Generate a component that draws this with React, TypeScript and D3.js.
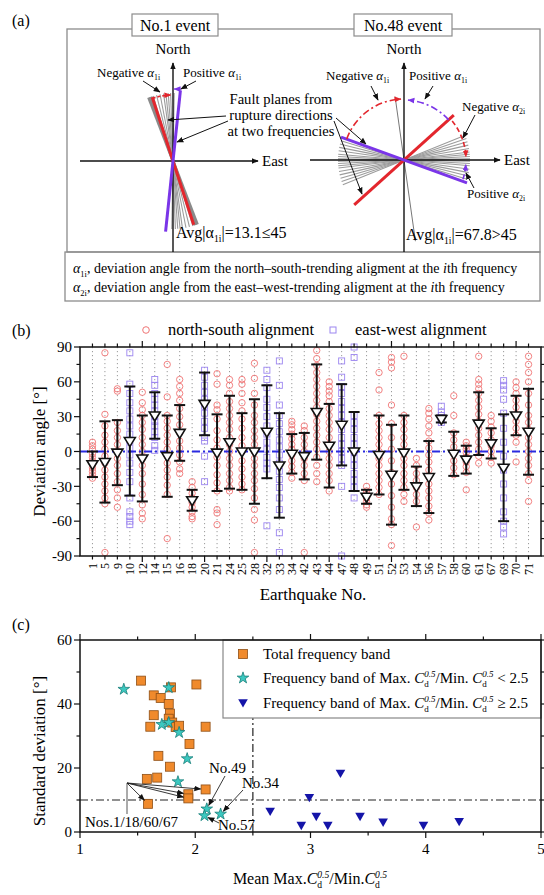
import { useEffect, useRef } from 'react'
import * as d3 from 'd3'

const WIDTH = 544
const HEIGHT = 895
const SERIF = "'Liberation Serif', 'Times New Roman', Times, serif"

const RED = '#e3262d'
const PURPLE = '#7a35e8'
const PLANE_GRAY = '#9c9c9c'

// (a) fault plane strikes, degrees clockwise from north
const no1Planes = [-21, -19, -17, -14, -11, -8, -6, -4, -2, 1]
const no48Planes = [68, 71, 74, 77, 80, 83, 85, 87, 89, 91, 93, 95, 98, 101, 104, 107, 110]
const redPlanes = [-18, 48]
const purplePlanes = [6, 110]
const no48AvgLine = -8

// (b) deviation angles per earthquake
const eqNo = [1, 5, 9, 10, 12, 14, 15, 16, 18, 20, 21, 24, 25, 28, 32, 33, 34, 42, 43, 44, 47, 48, 49, 51, 52, 53, 54, 56, 57, 58, 60, 61, 67, 69, 70, 71]
const alignment = ['ns', 'ns', 'ns', 'ew', 'ns', 'ew', 'ns', 'ns', 'ns', 'ew', 'ns', 'ns', 'ns', 'ns', 'ew', 'ew', 'ns', 'ns', 'ns', 'ns', 'ew', 'ew', 'ns', 'ns', 'ns', 'ns', 'ns', 'ns', 'ew', 'ns', 'ns', 'ns', 'ns', 'ew', 'ns', 'ns']
const devMean = [-11, -9, -1, 9, -6, 31, -4, 16, -42, 41, -1, 8, 0, 0, 17, -12, -2, -4, 34, 5, 23, 0, -39, -3, -20, -1, -30, -22, 28, -2, -7, 24, 7, -14, 31, 17]
const devStd = [11, 35, 28, 47, 37, 20, 35, 24, 9, 27, 33, 40, 33, 45, 40, 45, 17, 20, 41, 36, 35, 34, 6, 34, 43, 32, 17, 31, 3, 19, 12, 27, 13, 46, 17, 37]
const devAngles = [
  [8, 5, 2, -2, -5, -8, -11, -14, -17, -20, -23],
  [85, 32, 22, 14, 8, 2, -4, -10, -16, -22, -28, -34, -40, -45, -87],
  [54, 52, 25, 18, 12, 6, 0, -6, -12, -19, -26, -33, -40, -48],
  [85, 58, 50, 42, 35, 28, 22, 15, 9, 3, -3, -10, -18, -26, -40, -52, -56, -60, -63],
  [51, 42, 36, 31, 25, 19, 12, 6, 0, -6, -12, -19, -28, -37, -46, -53, -58],
  [62, 57, 50, 45, 40, 35, 30, 26, 22, 17, 12, 5, 1],
  [75, 47, 31, 26, 20, 14, 8, 2, -4, -10, -16, -22, -29, -37, -75],
  [62, 56, 50, 44, 37, 30, 23, 16, 9, 3, -3, -9, -15, -19],
  [-26, -31, -36, -40, -44, -48, -52, -56, -58],
  [70, 64, 57, 51, 45, 39, 33, 26, 20, 12, 9, -4, -26],
  [67, 58, 40, 36, 28, 18, 10, 3, -5, -12, -20, -27, -34, -50, -53, -63],
  [62, 57, 50, 43, 37, 31, 25, 19, 12, 6, 0, -6, -12, -19, -25, -31, -34],
  [62, 58, 50, 42, 35, 28, 20, 12, 5, 0, -8, -15, -22, -28, -33],
  [76, 63, 50, 40, 31, 25, 18, 12, 6, 0, -6, -12, -19, -25, -32, -40, -50, -59, -87],
  [70, 62, 55, 45, 38, 30, 22, 15, 8, 2, -5, -10, -15, -64],
  [78, 57, 40, 31, 24, 17, 10, 4, -3, -10, -17, -24, -31, -40, -50, -70, -87],
  [26, 23, 19, 15, 11, 6, 2, -3, -8, -13, -18, -23],
  [22, 18, 12, 6, 0, -6, -12, -19, -25, -87],
  [87, 80, 74, 68, 62, 56, 50, 44, 38, 32, 26, 20, 14, 8, 2, -5, -12, -19, -26],
  [60, 56, 52, 48, 43, 37, 31, 25, 19, 12, 6, 0, -6, -12, -19, -25, -34],
  [78, 64, 56, 50, 43, 37, 31, 25, 19, 12, 6, 0, -6, -12, -30, -90],
  [90, 81, 31, 25, 19, 12, 6, 0, -6, -12, -19, -25, -31, -40],
  [-30, -34, -37, -40, -43, -46, -48],
  [68, 53, 31, 24, 18, 12, 6, 0, -6, -12, -19, -25, -31, -37],
  [81, 77, 72, 40, 24, 12, 2, -8, -18, -28, -38, -48, -58, -63, -81],
  [82, 31, 25, 19, 12, 6, 0, -6, -12, -19, -25, -31, -37, -43],
  [-6, -12, -19, -25, -31, -37, -43, -65],
  [37, 33, 28, 22, 16, 9, 3, -3, -9, -16, -22, -28, -34, -40, -47, -53, -59],
  [39, 34, 31, 29, 27, 25],
  [48, 31, 16, 10, 4, -2, -8, -14, -20],
  [8, 5, 2, -1, -5, -9, -13, -18, -33],
  [82, 62, 58, 54, 50, 44, 38, 32, 26, 20, 14, 8, 2, -4, -10],
  [31, 26, 21, 16, 10, 5, 0, -5, -10],
  [61, 57, 53, 45, 33, 20, 8, -4, -16, -28, -40, -52, -60, -65, -71],
  [60, 55, 50, 44, 38, 32, 26, 20, 14, 8, -9],
  [82, 75, 68, 60, 50, 40, 31, 25, 19, 12, 6, 0, -6, -12, -19, -25, -43],
]

// (c) mean ratio vs standard deviation
const totalBand = [
  [1.53, 47.3], [1.64, 42.7], [1.70, 41.9], [1.79, 45.2], [1.77, 40.0], [1.64, 36.5],
  [1.78, 37.0], [1.77, 35.4], [1.80, 34.2], [1.83, 32.8], [1.86, 33.2], [1.61, 32.9],
  [2.01, 46.1], [2.09, 32.9], [1.95, 27.5], [1.68, 23.8], [1.78, 20.4], [1.58, 16.6],
  [1.67, 17.0], [2.09, 13.3], [1.94, 11.8], [1.94, 10.5], [1.59, 8.8],
]
const bandBelow = [
  [1.38, 44.6], [1.77, 45.1], [1.71, 33.6], [1.77, 34.2], [1.86, 31.1], [1.93, 22.9],
  [1.85, 15.7], [2.10, 7.2], [2.08, 5.1], [2.22, 5.6],
]
const bandAbove = [
  [2.65, 6.4], [2.92, 2.0], [2.99, 10.7], [3.05, 4.8], [3.15, 2.0], [3.26, 18.3],
  [3.43, 4.8], [3.63, 3.0], [3.98, 2.0], [4.29, 3.2],
]
const nosGroup = [22, 20, 21, 19] // totalBand indices of Nos.1/18/60/67

const compass = (deg: number) => ((deg - 90) * Math.PI) / 180
const polar = (cx: number, cy: number, deg: number, r: number) => [cx + r * Math.cos(compass(deg)), cy + r * Math.sin(compass(deg))]

function arrow(g: any, x1: number, y1: number, x2: number, y2: number, id = 'arrBlack', color = '#111', w = 1) {
  g.append('line').attr('x1', x1).attr('y1', y1).attr('x2', x2).attr('y2', y2)
    .attr('stroke', color).attr('stroke-width', w).attr('marker-end', `url(#${id})`)
}

function alphaText(g: any, x: number, y: number, prefix: string, sub: string, size: number, italic = true) {
  const t = g.append('text').attr('x', x).attr('y', y).attr('font-size', size)
  if (prefix) t.append('tspan').text(prefix)
  t.append('tspan').attr('font-style', italic ? 'italic' : 'normal').text('α')
  t.append('tspan').attr('font-size', size * 0.6).attr('dy', size * 0.25).text(sub)
  return t
}

function cd(t: any, fs: number) {
  const s = fs * 0.6
  t.append('tspan').attr('font-style', 'italic').text('C')
  t.append('tspan').attr('font-size', s).attr('font-style', 'italic').attr('dy', -fs * 0.4).text('0.5')
  t.append('tspan').attr('font-size', s).attr('dx', -s * 1.25).attr('dy', fs * 0.65).text('d')
}

function drawPanelA(svg: any) {
  const g = svg.append('g')
  g.append('text').attr('x', 12).attr('y', 26).attr('font-size', 16).text('(a)')
  g.append('rect').attr('x', 67).attr('y', 29).attr('width', 473).attr('height', 223)
    .attr('fill', 'none').attr('stroke', '#8c8c8c').attr('stroke-width', 1.3)
  g.append('rect').attr('x', 65).attr('y', 252).attr('width', 475).attr('height', 49)
    .attr('fill', 'none').attr('stroke', '#8c8c8c').attr('stroke-width', 1.3)

  const events = [
    { title: 'No.1 event', bx: 132, bw: 86, cx: 173, cy: 161, hx0: 80, hx1: 258 },
    { title: 'No.48 event', bx: 354, bw: 98, cx: 404, cy: 160, hx0: 310, hx1: 500 },
  ]
  events.forEach((e, k) => {
    g.append('rect').attr('x', e.bx).attr('y', 14).attr('width', e.bw).attr('height', 22)
      .attr('fill', '#fff').attr('stroke', '#8c8c8c').attr('stroke-width', 1.2)
    g.append('text').attr('x', e.bx + e.bw / 2).attr('y', 31).attr('text-anchor', 'middle')
      .attr('font-size', 16).text(e.title)

    // fault planes
    const planes = k === 0 ? no1Planes : no48Planes
    planes.forEach((deg, i) => {
      const L = k === 0 ? 68 : 66
      const [x1, y1] = polar(e.cx, e.cy, deg, L)
      const [x2, y2] = polar(e.cx, e.cy, deg + 180, L)
      const thick = k === 0 && i < 2
      g.append('line').attr('x1', x1).attr('y1', y1).attr('x2', x2).attr('y2', y2)
        .attr('stroke', thick ? '#8a8a8a' : PLANE_GRAY).attr('stroke-width', thick ? 3 : 1.1)
    })
    if (k === 1) {
      const [x1, y1] = polar(e.cx, e.cy, no48AvgLine, 64)
      const [x2, y2] = polar(e.cx, e.cy, no48AvgLine + 180, 82)
      g.append('line').attr('x1', x1).attr('y1', y1).attr('x2', x2).attr('y2', y2)
        .attr('stroke', '#777').attr('stroke-width', 1)
    }

    // axes
    g.append('line').attr('x1', e.hx0).attr('y1', e.cy).attr('x2', e.hx1).attr('y2', e.cy)
      .attr('stroke', '#111').attr('stroke-width', 1.4).attr('marker-end', 'url(#arrBlack)')
    g.append('line').attr('x1', e.cx).attr('y1', 252).attr('x2', e.cx).attr('y2', 63)
      .attr('stroke', '#111').attr('stroke-width', 1.4).attr('marker-end', 'url(#arrBlack)')
    g.append('text').attr('x', e.cx).attr('y', 54).attr('text-anchor', 'middle').attr('font-size', 15).text('North')
    g.append('text').attr('x', e.hx1 + 4).attr('y', e.cy + 5).attr('font-size', 15).text('East')

    // the two frequency planes
    const pl = [[redPlanes[k], RED], [purplePlanes[k], PURPLE]] as [number, string][]
    pl.forEach(([deg, col]) => {
      const L = k === 0 ? (col === RED ? 67 : 71) : 67
      const [x1, y1] = polar(e.cx, e.cy, deg, L)
      const [x2, y2] = polar(e.cx, e.cy, deg + 180, L)
      g.append('line').attr('x1', x1).attr('y1', y1).attr('x2', x2).attr('y2', y2)
        .attr('stroke', col).attr('stroke-width', 3)
    })
  })

  // deviation arcs
  const arcPath = (cx: number, cy: number, r: number, d0: number, d1: number) => {
    const p = d3.path()
    p.arc(cx, cy, r, compass(d0), compass(d1), d1 < d0)
    return p.toString()
  }
  const arcs = [
    { cx: 173, cy: 161, r: 66, d0: redPlanes[0], d1: -2, col: RED, id: 'arrRed', dash: '3,2' },
    { cx: 173, cy: 161, r: 72, d0: purplePlanes[0], d1: 1, col: PURPLE, id: 'arrPurple', dash: '3,2' },
    { cx: 404, cy: 160, r: 61, d0: purplePlanes[1] - 180, d1: -3, col: RED, id: 'arrRed', dash: '7,3,2,3' },
    { cx: 404, cy: 160, r: 60, d0: redPlanes[1], d1: 4, col: PURPLE, id: 'arrPurple', dash: '7,3,2,3' },
    { cx: 404, cy: 160, r: 62, d0: redPlanes[1] + 3, d1: 87, col: RED, id: 'arrRed', dash: '5,3' },
    { cx: 404, cy: 160, r: 62, d0: purplePlanes[1] - 2, d1: 94, col: PURPLE, id: 'arrPurple', dash: '5,3' },
  ]
  arcs.forEach((a) => {
    g.append('path').attr('d', arcPath(a.cx, a.cy, a.r, a.d0, a.d1)).attr('fill', 'none')
      .attr('stroke', a.col).attr('stroke-width', 1.6).attr('stroke-dasharray', a.dash)
      .attr('marker-end', `url(#${a.id})`)
  })

  // labels and leaders
  alphaText(g, 97, 77, 'Negative ', '1i', 13)
  alphaText(g, 183, 77, 'Positive ', '1i', 13)
  arrow(g, 143, 81, 160, 92)
  arrow(g, 196, 81, 181, 89)
  alphaText(g, 326, 80, 'Negative ', '1i', 13)
  alphaText(g, 409, 80, 'Positive ', '1i', 13)
  arrow(g, 371, 86, 378, 100)
  arrow(g, 433, 86, 425, 99)
  alphaText(g, 462, 111, 'Negative ', '2i', 13)
  arrow(g, 475, 115, 463, 138)
  alphaText(g, 467, 198, 'Positive ', '2i', 13)
  arrow(g, 474, 188, 466, 173)

  ;['Fault planes from', 'rupture directions', 'at two frequencies'].forEach((s, i) => {
    g.append('text').attr('x', 281).attr('y', 104 + i * 16).attr('text-anchor', 'middle').attr('font-size', 14.6).text(s)
  })
  arrow(g, 226, 116, 168, 120)
  arrow(g, 228, 121, 177, 142)
  arrow(g, 336, 118, 366, 144)
  arrow(g, 334, 121, 362, 194)

  const avg1 = alphaText(g, 176, 238, 'Avg|', '1i', 16, false)
  avg1.append('tspan').attr('dy', -16 * 0.25).text('|=13.1≤45')
  const avg48 = alphaText(g, 406, 240, 'Avg|', '1i', 16, false)
  avg48.append('tspan').attr('dy', -16 * 0.25).text('|=67.8>45')

  const lines = [['1i', 'north–south'], ['2i', 'east–west']]
  lines.forEach(([sub, dir], i) => {
    const t = alphaText(g, 73, 273 + i * 19, '', sub, 14)
    t.append('tspan').attr('dy', -14 * 0.25).text(`, deviation angle from the ${dir}-trending aligment at the `)
    t.append('tspan').attr('font-style', 'italic').text('i')
    t.append('tspan').text('th frequency')
  })
}

function drawPanelB(svg: any) {
  const left = 80, right = 541, top = 347, bottom = 556
  const x = d3.scaleLinear().domain([0, eqNo.length + 1]).range([left, right])
  const y = d3.scaleLinear().domain([-90, 90]).range([bottom, top])
  const g = svg.append('g')
  const nsColor = '#f07575'
  const ewColor = '#9c86f0'

  g.append('text').attr('x', 12).attr('y', 336).attr('font-size', 16).text('(b)')
  g.append('circle').attr('cx', 146).attr('cy', 330).attr('r', 3.3).attr('fill', 'none').attr('stroke', nsColor)
  g.append('text').attr('x', 168).attr('y', 335).attr('font-size', 16.5).text('north-south alignment')
  g.append('rect').attr('x', 330).attr('y', 327).attr('width', 6).attr('height', 6).attr('fill', 'none').attr('stroke', ewColor)
  g.append('text').attr('x', 355).attr('y', 335).attr('font-size', 16.5).text('east-west alignment')

  eqNo.forEach((_, i) => {
    g.append('line').attr('x1', x(i + 1)).attr('x2', x(i + 1)).attr('y1', top).attr('y2', bottom)
      .attr('stroke', '#9a9a9a').attr('stroke-width', 1).attr('stroke-dasharray', '1.2,2.8')
  })

  devAngles.forEach((vals, i) => {
    vals.forEach((v) => {
      if (alignment[i] === 'ns') {
        g.append('circle').attr('cx', x(i + 1)).attr('cy', y(v)).attr('r', 3.2)
          .attr('fill', 'none').attr('stroke', nsColor).attr('stroke-width', 0.9)
      } else {
        g.append('rect').attr('x', x(i + 1) - 3).attr('y', y(v) - 3).attr('width', 6).attr('height', 6)
          .attr('fill', 'none').attr('stroke', ewColor).attr('stroke-width', 0.9)
      }
    })
  })

  g.append('line').attr('x1', left).attr('x2', right).attr('y1', y(0)).attr('y2', y(0))
    .attr('stroke', '#2a2ae0').attr('stroke-width', 2).attr('stroke-dasharray', '8,3,2,3')

  devMean.forEach((m, i) => {
    const cx = x(i + 1)
    const lo = y(m - devStd[i]), hi = y(m + devStd[i])
    g.append('line').attr('x1', cx).attr('x2', cx).attr('y1', lo).attr('y2', hi).attr('stroke', '#111').attr('stroke-width', 2)
    ;[lo, hi].forEach((yy) => g.append('line').attr('x1', cx - 5.5).attr('x2', cx + 5.5).attr('y1', yy).attr('y2', yy).attr('stroke', '#111').attr('stroke-width', 2))
    g.append('path').attr('d', 'M-5.5,-3.5L5.5,-3.5L0,5.5Z').attr('transform', `translate(${cx},${y(m)})`)
      .attr('fill', '#fff').attr('stroke', '#111').attr('stroke-width', 1.6)
  })

  g.append('rect').attr('x', left).attr('y', top).attr('width', right - left).attr('height', bottom - top)
    .attr('fill', 'none').attr('stroke', '#111').attr('stroke-width', 1.5)

  eqNo.forEach((n, i) => {
    const cx = x(i + 1)
    const len = (i + 1) % 5 === 0 ? 6 : 3.5
    g.append('line').attr('x1', cx).attr('x2', cx).attr('y1', top).attr('y2', top - len).attr('stroke', '#111').attr('stroke-width', 1.2)
    g.append('line').attr('x1', cx).attr('x2', cx).attr('y1', bottom).attr('y2', bottom + len).attr('stroke', '#111').attr('stroke-width', 1.2)
    g.append('text').attr('transform', `translate(${cx},${bottom + 7}) rotate(-90)`).attr('text-anchor', 'end')
      .attr('dy', '0.35em').attr('font-size', 12).text(n)
  })
  d3.range(-90, 91, 15).forEach((v) => {
    const len = v % 30 === 0 ? 6 : 3.5
    g.append('line').attr('x1', left).attr('x2', left - len).attr('y1', y(v)).attr('y2', y(v)).attr('stroke', '#111').attr('stroke-width', 1.2)
    g.append('line').attr('x1', right).attr('x2', right + len).attr('y1', y(v)).attr('y2', y(v)).attr('stroke', '#111').attr('stroke-width', 1.2)
    if (v % 30 === 0) {
      g.append('text').attr('x', left - 8).attr('y', y(v)).attr('dy', '0.35em').attr('text-anchor', 'end').attr('font-size', 15).text(v)
    }
  })
  g.append('text').attr('transform', `translate(45,${(top + bottom) / 2}) rotate(-90)`).attr('text-anchor', 'middle')
    .attr('font-size', 17).text('Deviation angle [°]')
  g.append('text').attr('x', 313).attr('y', 600).attr('text-anchor', 'middle').attr('font-size', 17).text('Earthquake No.')
}

function drawPanelC(svg: any) {
  const left = 80, right = 541, top = 640, bottom = 832
  const x = d3.scaleLinear().domain([1, 5]).range([left, right])
  const y = d3.scaleLinear().domain([0, 60]).range([bottom, top])
  const g = svg.append('g')
  const orange = '#f08a2c', cyan = '#3cc8c0', navy = '#1414a8'

  g.append('text').attr('x', 12).attr('y', 630).attr('font-size', 16).text('(c)')

  // reference lines
  g.append('line').attr('x1', left).attr('x2', right).attr('y1', y(10)).attr('y2', y(10))
    .attr('stroke', '#222').attr('stroke-width', 1.2).attr('stroke-dasharray', '8,3,2,3')
  g.append('line').attr('x1', x(2.5)).attr('x2', x(2.5)).attr('y1', bottom).attr('y2', 718)
    .attr('stroke', '#222').attr('stroke-width', 1.2).attr('stroke-dasharray', '8,3,2,3')

  // legend
  g.append('rect').attr('x', 223).attr('y', top).attr('width', right - 223).attr('height', 718 - top)
    .attr('fill', '#fff').attr('stroke', '#888').attr('stroke-width', 1.2)

  const square = (sel: any, cx: number, cy: number) => sel.append('rect').attr('x', cx - 4.5).attr('y', cy - 4.5).attr('width', 9).attr('height', 9)
    .attr('fill', orange).attr('stroke', '#8e4f16').attr('stroke-width', 0.8)
  const star = (sel: any, cx: number, cy: number) => sel.append('path').attr('d', d3.symbol().type(d3.symbolStar).size(42)())
    .attr('transform', `translate(${cx},${cy})`).attr('fill', cyan).attr('stroke', '#187f7a').attr('stroke-width', 0.8)
  const tri = (sel: any, cx: number, cy: number) => sel.append('path').attr('d', 'M-4.8,-3.8L4.8,-3.8L0,4.6Z')
    .attr('transform', `translate(${cx},${cy})`).attr('fill', navy)

  totalBand.forEach(([a, b]) => square(g, x(a), y(b)))
  bandBelow.forEach(([a, b]) => star(g, x(a), y(b)))
  bandAbove.forEach(([a, b]) => tri(g, x(a), y(b)))

  square(g, 243, 654)
  g.append('text').attr('x', 263).attr('y', 659).attr('font-size', 15).text('Total frequency band')
  star(g, 243, 678)
  tri(g, 243, 703)
  ;['<', '≥'].forEach((op, i) => {
    const t = g.append('text').attr('x', 263).attr('y', 683 + i * 25).attr('font-size', 15)
    t.append('tspan').text('Frequency band of Max. ')
    cd(t, 15)
    t.append('tspan').attr('dx', 15 * 0.6 * 0.75).attr('dy', -15 * 0.25).text('/Min. ')
    cd(t, 15)
    t.append('tspan').attr('dx', 15 * 0.6 * 0.75).attr('dy', -15 * 0.25).text(` ${op} 2.5`)
  })

  // frame and ticks
  g.append('rect').attr('x', left).attr('y', top).attr('width', right - left).attr('height', bottom - top)
    .attr('fill', 'none').attr('stroke', '#111').attr('stroke-width', 1.5)
  d3.range(1, 5.01, 0.5).forEach((v) => {
    const len = Number.isInteger(v) ? 6 : 3.5
    g.append('line').attr('x1', x(v)).attr('x2', x(v)).attr('y1', bottom).attr('y2', bottom + len).attr('stroke', '#111').attr('stroke-width', 1.2)
    g.append('line').attr('x1', x(v)).attr('x2', x(v)).attr('y1', top).attr('y2', top - len).attr('stroke', '#111').attr('stroke-width', 1.2)
    if (Number.isInteger(v)) {
      g.append('text').attr('x', x(v)).attr('y', bottom + 22).attr('text-anchor', 'middle').attr('font-size', 15).text(v)
    }
  })
  d3.range(0, 61, 10).forEach((v) => {
    const len = v % 20 === 0 ? 6 : 3.5
    g.append('line').attr('x1', left).attr('x2', left - len).attr('y1', y(v)).attr('y2', y(v)).attr('stroke', '#111').attr('stroke-width', 1.2)
    g.append('line').attr('x1', right).attr('x2', right + len).attr('y1', y(v)).attr('y2', y(v)).attr('stroke', '#111').attr('stroke-width', 1.2)
    if (v % 20 === 0) {
      g.append('text').attr('x', left - 8).attr('y', y(v)).attr('dy', '0.35em').attr('text-anchor', 'end').attr('font-size', 15).text(v)
    }
  })

  // callouts
  const hub = [127, 783]
  g.append('line').attr('x1', hub[0]).attr('x2', hub[0]).attr('y1', hub[1]).attr('y2', 814).attr('stroke', '#444').attr('stroke-width', 0.9)
  nosGroup.forEach((idx) => {
    const px = x(totalBand[idx][0]), py = y(totalBand[idx][1])
    const dx = px - hub[0], dy = py - hub[1], d = Math.hypot(dx, dy)
    arrow(g, hub[0], hub[1], px - (dx / d) * 5, py - (dy / d) * 5, 'arrBlack', '#222', 0.9)
  })
  g.append('text').attr('x', 85).attr('y', 827).attr('font-size', 15).text('Nos.1/18/60/67')

  const callouts = [
    { label: 'No.49', pt: bandBelow[7], tx: 209, ty: 773, from: [225, 776] },
    { label: 'No.34', pt: bandBelow[9], tx: 242, ty: 788, from: [243, 790] },
    { label: 'No.57', pt: bandBelow[8], tx: 218, ty: 830, from: [219, 823] },
  ]
  callouts.forEach((c) => {
    const px = x(c.pt[0]), py = y(c.pt[1])
    const dx = px - c.from[0], dy = py - c.from[1], d = Math.hypot(dx, dy)
    arrow(g, c.from[0], c.from[1], px - (dx / d) * 4, py - (dy / d) * 4, 'arrBlack', '#222', 0.9)
    g.append('text').attr('x', c.tx).attr('y', c.ty).attr('font-size', 15).text(c.label)
  })

  g.append('text').attr('transform', `translate(45,751) rotate(-90)`).attr('text-anchor', 'middle')
    .attr('font-size', 17).text('Standard deviation  [°]')
  const xl = g.append('text').attr('x', 310).attr('y', 884).attr('text-anchor', 'middle').attr('font-size', 16)
  xl.append('tspan').text('Mean Max.')
  cd(xl, 16)
  xl.append('tspan').attr('dx', 16 * 0.6 * 0.75).attr('dy', -16 * 0.25).text('/Min.')
  cd(xl, 16)
}

export default function App() {
  const svgRef = useRef<SVGSVGElement>(null)

  useEffect(() => {
    if (!svgRef.current) return
    const svg = d3.select(svgRef.current)
    svg.selectAll('*').remove()
    svg.attr('width', WIDTH).attr('height', HEIGHT).style('font-family', SERIF)

    svg.append('rect').attr('width', WIDTH).attr('height', HEIGHT).attr('fill', '#fff')

    const defs = svg.append('defs')
    const marker = (id: string, color: string) => {
      defs.append('marker').attr('id', id).attr('viewBox', '0 0 10 10').attr('refX', 9).attr('refY', 5)
        .attr('markerWidth', 7).attr('markerHeight', 7).attr('markerUnits', 'userSpaceOnUse').attr('orient', 'auto')
        .append('path').attr('d', 'M0,1L10,5L0,9Z').attr('fill', color)
    }
    marker('arrBlack', '#111')
    marker('arrRed', RED)
    marker('arrPurple', PURPLE)

    drawPanelA(svg)
    drawPanelB(svg)
    drawPanelC(svg)
  }, [])

  return <svg ref={svgRef} style={{ position: 'absolute', left: 0, top: 0 }} />
}
